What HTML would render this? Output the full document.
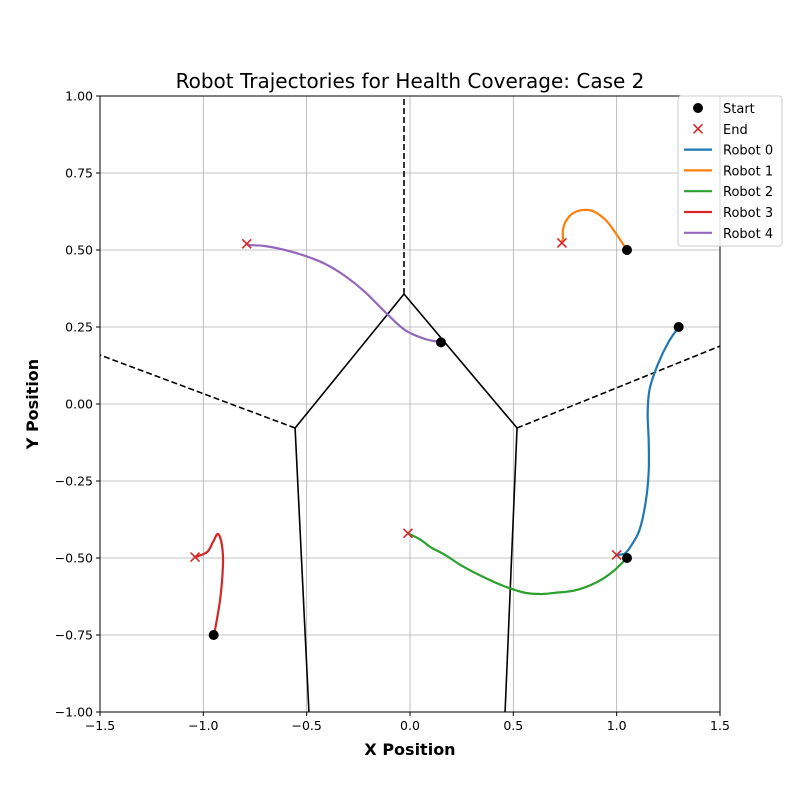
<!DOCTYPE html>
<html><head><meta charset="utf-8"><style>
body{margin:0;background:#fff;font-family:"Liberation Sans","DejaVu Sans",sans-serif;}
svg text{font-family:"DejaVu Sans","Liberation Sans",sans-serif;}
</style></head><body>
<svg id="c" width="800" height="800" xmlns="http://www.w3.org/2000/svg"></svg>
<script>
const xTicks=[-1.5,-1.0,-0.5,0.0,0.5,1.0,1.5];
const yTicks=[-1.00,-0.75,-0.50,-0.25,0.00,0.25,0.50,0.75,1.00];
const robotNames=["Robot 0","Robot 1","Robot 2","Robot 3","Robot 4"];
const robotColors=["#1f77b4","#ff7f0e","#2ca02c","#d62728","#9467bd"];
const robot0X=[1.30,1.25,1.20,1.16,1.15,1.155,1.155,1.14,1.11,1.07,1.04,1.00];
const robot0Y=[0.25,0.20,0.13,0.05,-0.03,-0.12,-0.22,-0.32,-0.41,-0.46,-0.485,-0.49];
const robot1X=[1.05,1.00,0.95,0.89,0.84,0.79,0.755,0.74,0.74,0.735];
const robot1Y=[0.50,0.55,0.595,0.625,0.63,0.62,0.595,0.565,0.54,0.523];
const robot2X=[1.05,0.98,0.90,0.80,0.70,0.63,0.55,0.45,0.35,0.25,0.17,0.10,0.05,-0.01];
const robot2Y=[-0.50,-0.545,-0.58,-0.605,-0.613,-0.617,-0.612,-0.59,-0.56,-0.525,-0.49,-0.465,-0.44,-0.42];
const robot3X=[-0.948,-0.919,-0.905,-0.910,-0.929,-0.953,-0.982,-1.040];
const robot3Y=[-0.75,-0.636,-0.523,-0.458,-0.422,-0.448,-0.481,-0.497];
const robot4X=[0.150,0.073,-0.024,-0.121,-0.218,-0.315,-0.411,-0.508,-0.605,-0.702,-0.774,-0.79];
const robot4Y=[0.201,0.211,0.240,0.299,0.364,0.416,0.455,0.481,0.500,0.513,0.516,0.52];
const startX=[1.30,1.05,1.05,-0.95,0.15];
const startY=[0.25,0.50,-0.50,-0.75,0.20];
const endX=[1.00,0.735,-0.01,-1.040,-0.79];
const endY=[-0.49,0.523,-0.42,-0.497,0.52];
const solidEdgesX=[[-0.029,-0.556],[-0.029,0.518],[-0.556,-0.489],[0.518,0.460]];
const solidEdgesY=[[0.357,-0.078],[0.357,-0.078],[-0.078,-1.0],[-0.078,-1.0]];
const dashedEdgesX=[[-0.029,-0.029],[-0.556,-1.5],[0.518,1.5]];
const dashedEdgesY=[[0.357,1.0],[-0.078,0.159],[-0.078,0.188]];

const L=100,R=720,T=96,B=712;
const sx=v=>L+(v+1.5)/3*(R-L);
const sy=v=>T+(1-v)/2*(B-T);
const svg=document.getElementById('c');
const NS="http://www.w3.org/2000/svg";
function mk(tag,attrs,parent){const e=document.createElementNS(NS,tag);for(const k in attrs)e.setAttribute(k,attrs[k]);(parent||svg).appendChild(e);return e;}
function smooth(P){let d='M'+P[0][0]+','+P[0][1];for(let i=0;i<P.length-1;i++){const p0=P[Math.max(0,i-1)],p1=P[i],p2=P[i+1],p3=P[Math.min(P.length-1,i+2)];
d+=' C'+(p1[0]+(p2[0]-p0[0])/6)+','+(p1[1]+(p2[1]-p0[1])/6)+' '+(p2[0]-(p3[0]-p1[0])/6)+','+(p2[1]-(p3[1]-p1[1])/6)+' '+p2[0]+','+p2[1];}return d;}

let t=mk('text',{x:410,y:88,'text-anchor':'middle','font-size':'20'});t.textContent="Robot Trajectories for Health Coverage: Case 2";


xTicks.forEach(v=>{const g=mk('line',{x1:sx(v),x2:sx(v),y1:T,y2:B,stroke:'#b0b0b0','stroke-width':0.8});


const k=mk('line',{x1:sx(v),x2:sx(v),y1:B,y2:B+4,stroke:'#000'});


const tx=mk('text',{x:sx(v),y:B+18,'text-anchor':'middle','font-size':'12.5'});tx.textContent=(v<0?'\u2212':'')+Math.abs(v).toFixed(1);

});
yTicks.forEach(v=>{const g=mk('line',{x1:L,x2:R,y1:sy(v),y2:sy(v),stroke:'#b0b0b0','stroke-width':0.8});


const k=mk('line',{x1:L-4,x2:L,y1:sy(v),y2:sy(v),stroke:'#000'});


const tx=mk('text',{x:L-7,y:sy(v)+4.5,'text-anchor':'end','font-size':'12.5'});tx.textContent=(v<0?'\u2212':'')+Math.abs(v).toFixed(2);

});
solidEdgesX.forEach((xs,i)=>{const l=mk('line',{x1:sx(xs[0]),y1:sy(solidEdgesY[i][0]),x2:sx(xs[1]),y2:sy(solidEdgesY[i][1]),stroke:'#000','stroke-width':1.6});

});
dashedEdgesX.forEach((xs,i)=>{const l=mk('line',{x1:sx(xs[0]),y1:sy(dashedEdgesY[i][0]),x2:sx(xs[1]),y2:sy(dashedEdgesY[i][1]),stroke:'#000','stroke-width':1.6,'stroke-dasharray':'6,3'});

});
const RX=[robot0X,robot1X,robot2X,robot3X,robot4X],RY=[robot0Y,robot1Y,robot2Y,robot3Y,robot4Y];
RX.forEach((xs,i)=>{const P=xs.map((x,j)=>[sx(x),sy(RY[i][j])]);
const p=mk('path',{d:smooth(P),fill:'none',stroke:robotColors[i],'stroke-width':2.2,'stroke-linejoin':'round'});

});
startX.forEach((x,i)=>{const c=mk('circle',{cx:sx(x),cy:sy(startY[i]),r:5,fill:'#000'});

});
function cross(cx,cy,name){const g=mk('g',{});
mk('line',{x1:cx-4.5,y1:cy-4.5,x2:cx+4.5,y2:cy+4.5,stroke:'#d62728','stroke-width':1.6},g);
mk('line',{x1:cx-4.5,y1:cy+4.5,x2:cx+4.5,y2:cy-4.5,stroke:'#d62728','stroke-width':1.6},g);}
endX.forEach((x,i)=>cross(sx(x),sy(endY[i]),'end-marker'));
const fr=mk('rect',{x:L,y:T,width:R-L,height:B-T,fill:'none',stroke:'#000','stroke-width':1});


let xl=mk('text',{x:410,y:755,'text-anchor':'middle','font-size':'16','font-weight':'bold'});xl.textContent="X Position";


let yl=mk('text',{x:38,y:404,'text-anchor':'middle','font-size':'16','font-weight':'bold',transform:'rotate(-90 38 404)'});yl.textContent="Y Position";


const lg=mk('g',{});
mk('rect',{x:678,y:96,width:104,height:150,rx:3,fill:'#fff','fill-opacity':0.85,stroke:'#ccc'},lg);
const labels=["Start","End"].concat(robotNames);
labels.forEach((s,i)=>{const y=108+i*20.8;
if(i==0)mk('circle',{cx:698,cy:y,r:5,fill:'#000'},lg);
else if(i==1){mk('line',{x1:693.5,y1:y-4.5,x2:702.5,y2:y+4.5,stroke:'#d62728','stroke-width':1.6},lg);mk('line',{x1:693.5,y1:y+4.5,x2:702.5,y2:y-4.5,stroke:'#d62728','stroke-width':1.6},lg);}
else mk('line',{x1:684,x2:712,y1:y,y2:y,stroke:robotColors[i-2],'stroke-width':2.2},lg);
const tx=mk('text',{x:723,y:y+5,'font-size':'13'},lg);tx.textContent=s;

});
</script>
</body></html>
